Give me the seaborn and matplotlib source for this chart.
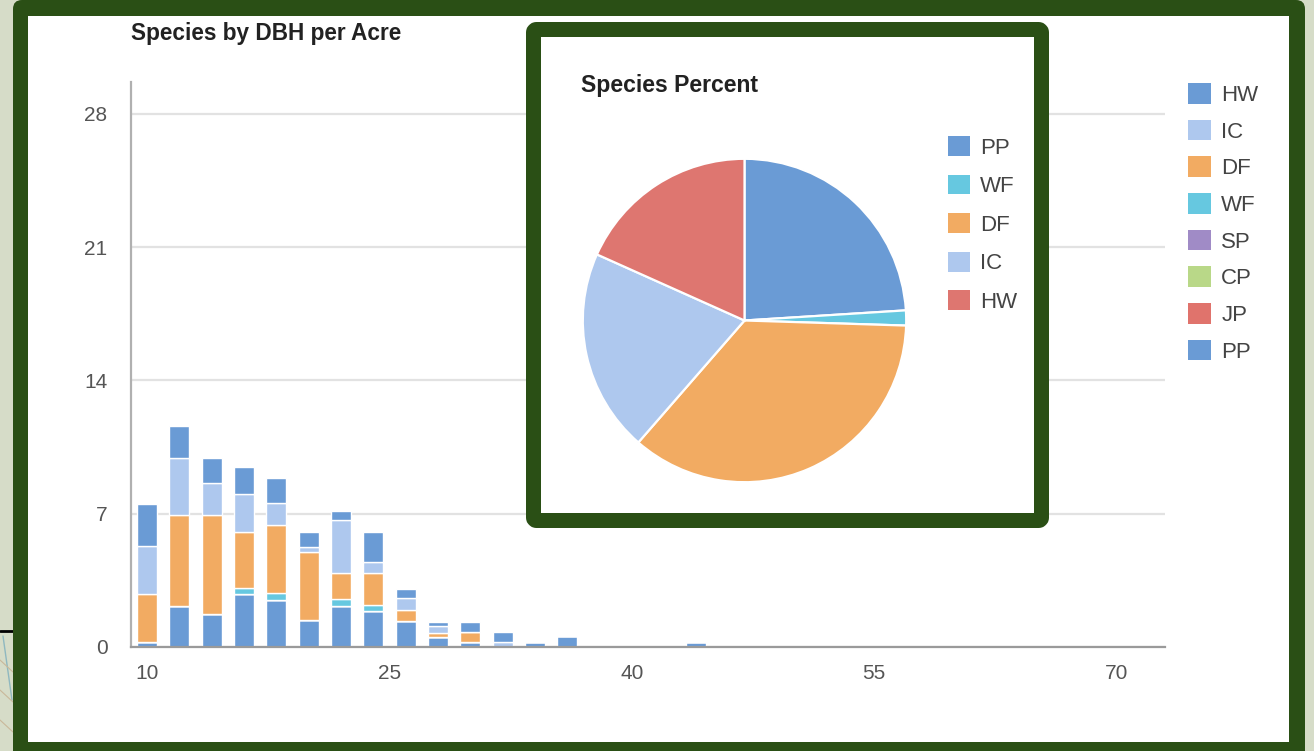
import numpy as np
import pandas as pd
import matplotlib
matplotlib.use("Agg")
import matplotlib.pyplot as plt
import seaborn as sns
from matplotlib.patches import FancyBboxPatch, Rectangle, Patch
from matplotlib.lines import Line2D
from matplotlib import transforms as mtransforms

# ---------------- data ----------------
dbh_classes = [10, 12, 14, 16, 18, 20, 22, 24, 26, 28, 30, 32, 34, 36, 38, 40, 42, 44]
species_order = ["HW", "IC", "DF", "WF", "SP", "CP", "JP", "PP"]
tpa_PP = [0.28, 2.17, 1.72, 2.77, 2.47, 1.42, 2.17, 1.91, 1.38, 0.50, 0.25, 0.00, 0.27, 0.56, 0, 0, 0, 0.26]
tpa_JP = [0] * 18
tpa_CP = [0] * 18
tpa_SP = [0] * 18
tpa_WF = [0, 0, 0, 0.31, 0.35, 0, 0.33, 0.29, 0, 0, 0, 0, 0, 0, 0, 0, 0, 0]
tpa_DF = [2.50, 4.76, 5.21, 2.98, 3.59, 3.59, 1.37, 1.67, 0.56, 0.25, 0.53, 0, 0, 0, 0, 0, 0, 0]
tpa_IC = [2.50, 3.01, 1.70, 1.98, 1.14, 0.26, 2.80, 0.61, 0.62, 0.35, 0, 0.27, 0, 0, 0, 0, 0, 0]
tpa_HW = [2.23, 1.68, 1.28, 1.40, 1.31, 0.77, 0.49, 1.54, 0.49, 0.20, 0.53, 0.53, 0, 0, 0, 0, 0, 0]

pie_labels = ["PP", "WF", "DF", "IC", "HW"]
pie_values = [24.0, 1.5, 35.9, 20.3, 18.3]

y_ticks = [0, 7, 14, 21, 28]
x_ticks = [10, 25, 40, 55, 70]

bar_colors = {"HW": "#6a9bd5", "IC": "#aec8ee", "DF": "#f2ab62", "WF": "#66c8e0",
              "SP": "#a08bc6", "CP": "#b9d888", "JP": "#e0736c", "PP": "#6a9bd5"}
pie_colors = {"PP": "#6a9bd5", "WF": "#66c8e0", "DF": "#f2ab62", "IC": "#aec8ee", "HW": "#de7670"}

GREEN = "#2a4f15"
BG = "#d6dcc8"
FONT = ["Liberation Sans", "DejaVu Sans"]

sns.set_style("white")
plt.rcParams["font.family"] = FONT

W, H = 1314, 751
fig = plt.figure(figsize=(W / 100, H / 100), dpi=100, facecolor=BG)
px = mtransforms.Affine2D().scale(1 / 100, -1 / 100).translate(0, H / 100) + fig.dpi_scale_trans

# background decorations on left strip
fig.add_artist(Line2D([0, 13], [631, 631], color="black", lw=2, transform=px, zorder=-4))
fig.add_artist(Line2D([3, 12], [636, 700], color="#8fb8c0", lw=1, transform=px, zorder=-4))
for yy in (660, 690, 720):
    fig.add_artist(Line2D([0, 13], [yy, yy + 12], color="#c9b89a", lw=0.8, transform=px, zorder=-4))

# outer frame
fig.add_artist(FancyBboxPatch((13, 0), 1292, 780, boxstyle="round,pad=0,rounding_size=9",
                              fc=GREEN, ec="none", transform=px, zorder=-3))
fig.add_artist(Rectangle((28, 16), 1261, 726, fc="white", ec="none", transform=px, zorder=-2))

# ---------------- stacked bar chart ----------------
series = {"HW": tpa_HW, "IC": tpa_IC, "DF": tpa_DF, "WF": tpa_WF,
          "SP": tpa_SP, "CP": tpa_CP, "JP": tpa_JP, "PP": tpa_PP}
rows = []
for sp in species_order:
    for d, v in zip(dbh_classes, series[sp]):
        rows.append({"dbh": d, "species": sp, "tpa": v})
df = pd.DataFrame(rows)

ax = fig.add_axes([131 / W, 1 - 647 / H, (1165 - 131) / W, (647 - 82) / H])
ax.set_facecolor("none")
edges = [float(e) for e in range(dbh_classes[0] - 1, dbh_classes[-1] + 2, 2)]
sns.histplot(data=df, x="dbh", weights="tpa", hue="species", hue_order=species_order,
             multiple="stack", bins=edges, shrink=0.62, palette=bar_colors,
             edgecolor="white", linewidth=1.0, alpha=1, legend=False, ax=ax)
ax.set_xlim(9.0, 73.0)
ax.set_ylim(0, 29.67)
ax.set_yticks(y_ticks)
ax.set_xticks(x_ticks)
ax.set_xlabel("")
ax.set_ylabel("")
ax.yaxis.grid(True, color="#e2e2e2", lw=1.6)
ax.xaxis.grid(False)
ax.set_axisbelow(True)
for s in ("top", "right"):
    ax.spines[s].set_visible(False)
ax.spines["left"].set_color("#b0b0b0")
ax.spines["left"].set_linewidth(1.6)
ax.spines["bottom"].set_color("#9a9a9a")
ax.spines["bottom"].set_linewidth(1.6)
ax.tick_params(axis="y", length=0, pad=17, labelsize=15, labelcolor="#555555")
ax.tick_params(axis="x", length=0, pad=12, labelsize=15, labelcolor="#555555")

fig.text(131 / W, 1 - 40 / H, "Species by DBH per Acre", fontsize=16.3, fontweight="bold",
         color="#222222", ha="left", va="baseline")

handles = [Patch(facecolor=bar_colors[s], edgecolor="none") for s in species_order]
fig.legend(handles, species_order, loc="upper left", bbox_to_anchor=(1188 / W, 1 - 83 / H),
           frameon=False, borderpad=0, borderaxespad=0, fontsize=16, handlelength=1.05,
           handleheight=1.05, handletextpad=0.45, labelspacing=0.62, labelcolor="#444444")

# ---------------- pie inset ----------------
fig.add_artist(FancyBboxPatch((533.5, 29.5), 508, 491, boxstyle="round,pad=0,rounding_size=3",
                              fc="white", ec=GREEN, lw=10.8, joinstyle="round", transform=px, zorder=1))

pax = fig.add_axes([582 / W, 1 - 483 / H, 325 / W, 325 / H], zorder=2)
pax.pie(pie_values, colors=[pie_colors[l] for l in pie_labels], startangle=90, counterclock=False,
        wedgeprops=dict(edgecolor="white", linewidth=1.6))
pax.set_xlim(-1.005, 1.005)
pax.set_ylim(-1.005, 1.005)
pax.set_aspect("equal")
pax.axis("off")

fig.text(581 / W, 1 - 92 / H, "Species Percent", fontsize=16.6, fontweight="bold",
         color="#222222", ha="left", va="baseline", zorder=3)
phandles = [Patch(facecolor=pie_colors[l], edgecolor="none") for l in pie_labels]
leg2 = fig.legend(phandles, pie_labels, loc="upper left", bbox_to_anchor=(948 / W, 1 - 136 / H),
                  frameon=False, borderpad=0, borderaxespad=0, fontsize=16, handlelength=1.0,
                  handleheight=1.0, handletextpad=0.45, labelspacing=0.72, labelcolor="#444444")
leg2.set_zorder(4)

fig.savefig("out.png", dpi=100, facecolor=BG)
